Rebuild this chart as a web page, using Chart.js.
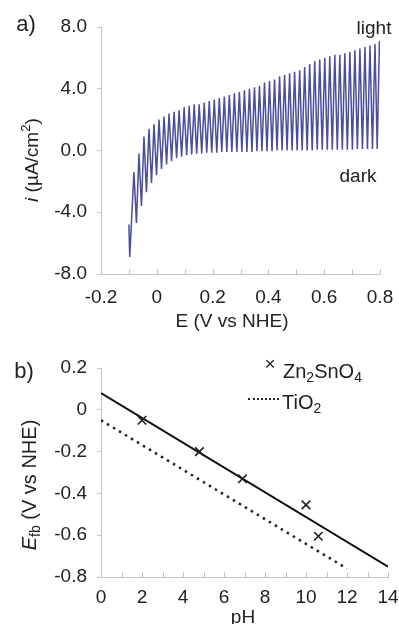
<!DOCTYPE html>
<html>
<head>
<meta charset="utf-8">
<script src="https://cdn.jsdelivr.net/npm/chart.js@4"></script>
<style>
    body { margin: 0; background: #fff; }
    #page { position: relative; width: 399px; height: 624px; overflow: hidden; font-family: "Liberation Sans", Arial, sans-serif; color: #222; }
    .box { position: absolute; }
    .lbl { position: absolute; line-height: 1; white-space: nowrap; transform: translate(-50%, -50%); }
    .rot { transform: translate(-50%, -50%) rotate(-90deg); }
    sub { font-size: 70%; vertical-align: -0.25em; line-height: 0; }
    sup { font-size: 70%; vertical-align: 0.55em; line-height: 0; }
</style>
</head>
<body>
<div id="page">
    <div class="box" style="left:0;top:0;width:399px;height:310px;"><canvas id="cvChart"></canvas></div>
    <div class="box" style="left:0;top:330px;width:399px;height:294px;"><canvas id="fbChart"></canvas></div>

    <div class="lbl" style="left:26px;top:24px;font-size:22px;">a)</div>
    <div class="lbl rot" style="left:31px;top:160px;font-size:19px;"><i>i</i> (µA/cm<sup>2</sup>)</div>
    <div class="lbl" style="left:232px;top:320px;font-size:19px;">E (V vs NHE)</div>
    <div class="lbl" style="left:374px;top:27px;font-size:19px;">light</div>
    <div class="lbl" style="left:358px;top:175px;font-size:19px;">dark</div>

    <div class="lbl" style="left:24px;top:371px;font-size:22px;">b)</div>
    <div class="lbl rot" style="left:29px;top:485px;font-size:20px;"><i>E</i><sub>fb</sub> (V vs NHE)</div>
    <div class="lbl" style="left:243px;top:616px;font-size:19px;">pH</div>
    <div class="lbl" style="left:270px;top:363px;font-size:19px;">×</div>
    <div class="lbl" style="left:283px;top:371px;font-size:20px;transform:translate(0,-50%);">Zn<sub>2</sub>SnO<sub>4</sub></div>
    <div class="box" style="left:248px;top:398px;width:31px;height:0;border-top:2.5px dotted #222;"></div>
    <div class="lbl" style="left:282px;top:402px;font-size:20px;transform:translate(0,-50%);">TiO<sub>2</sub></div>
</div>

<script>
// Chart a): chopped-light voltammogram
const startE = [-0.100, -0.097];
const startI = [-4.8, -6.9];

// light (upper) turning points
const lightE = [-0.082, -0.064, -0.046, -0.028, -0.010, 0.008, 0.026, 0.044, 0.062, 0.080,
    0.098, 0.116, 0.134, 0.152, 0.170, 0.188, 0.206, 0.224, 0.242, 0.260,
    0.278, 0.296, 0.314, 0.332, 0.350, 0.368, 0.386, 0.404, 0.422, 0.440,
    0.458, 0.476, 0.494, 0.512, 0.530, 0.548, 0.566, 0.584, 0.602, 0.620,
    0.638, 0.656, 0.674, 0.692, 0.710, 0.728, 0.746, 0.764, 0.782, 0.798];
const lightI = [-1.4, -0.2, 0.9, 1.4, 1.7, 2.0, 2.2, 2.4, 2.5, 2.6,
    2.8, 2.9, 3.0, 3.0, 3.1, 3.2, 3.3, 3.4, 3.5, 3.6,
    3.7, 3.8, 3.9, 4.0, 4.1, 4.2, 4.4, 4.5, 4.6, 4.8,
    4.9, 5.0, 5.1, 5.2, 5.4, 5.6, 5.8, 5.9, 6.0, 6.1,
    6.2, 6.2, 6.3, 6.4, 6.5, 6.6, 6.7, 6.8, 6.9, 7.1];

// dark (lower) turning points
const darkE = [-0.073, -0.055, -0.037, -0.019, -0.001, 0.017, 0.035, 0.053, 0.071, 0.089,
    0.107, 0.125, 0.143, 0.161, 0.179, 0.197, 0.215, 0.233, 0.251, 0.269,
    0.287, 0.305, 0.323, 0.341, 0.359, 0.377, 0.395, 0.413, 0.431, 0.449,
    0.467, 0.485, 0.503, 0.521, 0.539, 0.557, 0.575, 0.593, 0.611, 0.629,
    0.647, 0.665, 0.683, 0.701, 0.719, 0.737, 0.755, 0.773, 0.790];
const darkI = [-4.7, -3.6, -2.7, -2.1, -1.6, -1.2, -0.9, -0.7, -0.5, -0.4,
    -0.3, -0.25, -0.2, -0.2, -0.15, -0.15, -0.15, -0.1, -0.1, -0.1,
    -0.1, -0.1, -0.1, -0.1, -0.05, -0.05, -0.05, -0.05, 0.0, 0.0,
    0.0, 0.0, 0.0, 0.0, 0.0, 0.0, 0.05, 0.05, 0.05, 0.05,
    0.05, 0.05, 0.05, 0.05, 0.1, 0.1, 0.1, 0.1, 0.1];

// Chart b): flat band potential vs pH
const znPH = [2.0, 4.8, 6.9, 10.0, 10.6];
const znEfb = [-0.05, -0.2, -0.33, -0.455, -0.605];
const fitPH = [0, 14];
const fitEfb = [0.08, -0.75];
const tioPH = [0, 12];
const tioEfb = [-0.05, -0.76];

const axisColor = '#cbc1c1';
const fontFamily = '"Liberation Sans", Arial, sans-serif';

// Pair two arrays into {x, y} points
const toPoints = (xs, ys) => xs.map((x, i) => ({ x: x, y: ys[i] }));

// Build the zigzag: start, then light / dark alternating
const buildSweep = () => {
    let pts = toPoints(startE, startI);
    for (let k = 0; k < lightE.length; k++) {
        pts.push({ x: lightE[k], y: lightI[k] });
        if (k < darkE.length) pts.push({ x: darkE[k], y: darkI[k] });
    }
    return pts;
}

// Short x ticks drawn upwards into the plot
const innerTicks = {
    id: 'innerTicks',
    afterDraw(chart) {
        const sx = chart.scales.x;
        const ctx = chart.ctx;
        ctx.save();
        ctx.strokeStyle = axisColor;
        ctx.lineWidth = 1;
        sx.ticks.forEach(t => {
            const px = Math.round(sx.getPixelForValue(t.value)) + 0.5;
            ctx.beginPath();
            ctx.moveTo(px, sx.top);
            ctx.lineTo(px, sx.top - 5);
            ctx.stroke();
        });
        ctx.restore();
    }
};

const fixBox = (width, height) => (scale) => {
    if (width) scale.width = width;
    if (height) scale.height = height;
    scale.paddingLeft = 0;
    scale.paddingRight = 0;
}

const yAxis = (min, max, step, fmt) => ({
    min: min, max: max,
    border: { color: axisColor, width: 1 },
    grid: { drawOnChartArea: false, tickLength: 4, color: axisColor },
    ticks: { stepSize: step, padding: 10, color: '#222', font: { family: fontFamily, size: 19 }, callback: fmt },
    afterFit: fixBox(101, 0)
});

const xAxis = (min, max, step, pad, height, fmt) => ({
    type: 'linear', min: min, max: max,
    border: { color: axisColor, width: 1 },
    grid: { drawOnChartArea: false, drawTicks: false },
    ticks: { stepSize: step, autoSkip: false, maxRotation: 0, padding: pad, color: '#222', font: { family: fontFamily, size: 19 }, callback: fmt },
    afterFit: fixBox(0, height)
});

const createSweepChart = () => {
    const ctx = document.getElementById('cvChart').getContext('2d');
    new Chart(ctx, {
        type: 'line',
        data: {
            datasets: [{
                data: buildSweep(),
                borderColor: '#4b4d9e',
                borderWidth: 1.5,
                pointRadius: 0,
                tension: 0
            }]
        },
        options: {
            responsive: true,
            maintainAspectRatio: false,
            animation: false,
            layout: { padding: { top: 27, right: 19, left: 0, bottom: 0 } },
            plugins: { legend: { display: false }, tooltip: { enabled: false } },
            scales: {
                x: xAxis(-0.2, 0.8, 0.1, 12, 36, (v) => {
                    const n = Math.round(v * 10);
                    if (n % 2 !== 0) return '';
                    return n === 0 ? '0' : (n / 10).toFixed(1);
                }),
                y: yAxis(-8, 8, 4, (v) => v.toFixed(1))
            }
        },
        plugins: [innerTicks]
    });
}

const createFlatBandChart = () => {
    const ctx = document.getElementById('fbChart').getContext('2d');
    new Chart(ctx, {
        type: 'line',
        data: {
            datasets: [
                {
                    label: 'Zn2SnO4',
                    data: toPoints(znPH, znEfb),
                    showLine: false,
                    pointStyle: 'crossRot',
                    pointRadius: 6,
                    pointBorderWidth: 1.7,
                    borderColor: '#222',
                    backgroundColor: '#222'
                },
                {
                    label: 'fit',
                    data: toPoints(fitPH, fitEfb),
                    borderColor: '#111',
                    borderWidth: 2,
                    pointRadius: 0
                },
                {
                    label: 'TiO2',
                    data: toPoints(tioPH, tioEfb),
                    borderColor: '#222',
                    borderWidth: 2.5,
                    borderDash: [2.5, 4.5],
                    pointRadius: 0
                }
            ]
        },
        options: {
            responsive: true,
            maintainAspectRatio: false,
            animation: false,
            layout: { padding: { top: 38, right: 11, left: 0, bottom: 0 } },
            plugins: { legend: { display: false }, tooltip: { enabled: false } },
            scales: {
                x: xAxis(0, 14, 1, 9, 47, (v) => (Math.round(v) % 2 === 0 ? String(Math.round(v)) : '')),
                y: yAxis(-0.8, 0.2, 0.2, (v) => {
                    const n = Math.round(v * 10);
                    return n === 0 ? '0' : (n / 10).toFixed(1);
                })
            }
        },
        plugins: [innerTicks]
    });
}

createSweepChart();
createFlatBandChart();
</script>
</body>
</html>
